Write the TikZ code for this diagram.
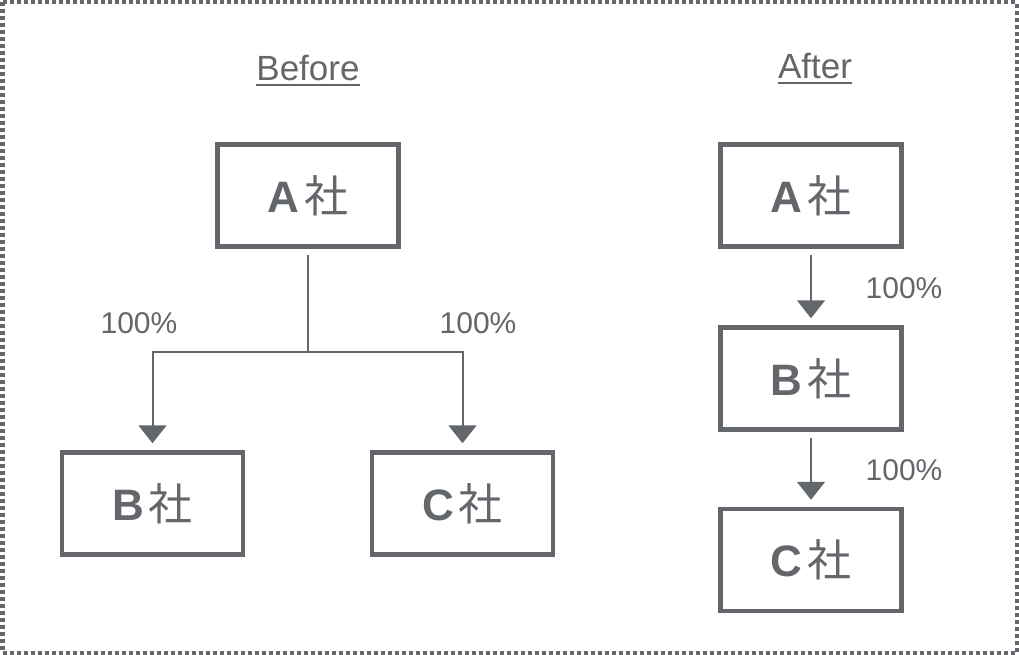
\documentclass[tikz,border=0pt]{standalone}
\usepackage{fontspec}
\setmainfont{Liberation Sans}
\newfontfamily\cjkfont{Noto Sans CJK JP}
\usetikzlibrary{arrows.meta}
\definecolor{ink}{HTML}{63666A}
\newcommand{\sha}{\hspace{5pt}{\cjkfont\mdseries 社}}

\begin{document}
\begin{tikzpicture}
[
x=1pt, y=-1pt,
every node/.style={text=ink},
company/.style={draw=ink, line width=4.5pt, minimum width=181pt, minimum height=102pt, inner sep=0pt, font=\fontsize{44}{48}\selectfont\bfseries},
pct/.style={font=\fontsize{30}{34}\selectfont},
title/.style={font=\fontsize{35}{40}\selectfont, inner sep=0pt},
conn/.style={draw=ink, line width=2pt},
arr/.style={conn, -{Triangle[width=28pt,length=18pt]}, shorten <=6pt, shorten >=7pt}
]
\useasboundingbox (0,0) rectangle (1019,655);
\draw[ink, line width=4.5pt, dash pattern=on 4pt off 3pt] (2.25,2.25) rectangle (1016.75,652.75);

% Before
\node[title] (before) at (308,68) {Before};
\draw[ink, line width=2pt] ([yshift=-5pt]before.base west) -- ([yshift=-5pt]before.base east);
\node[company] (bA) at (308,195.5) {A\sha};
\node[company] (bB) at (152.5,503.5) {B\sha};
\node[company] (bC) at (462.5,503.5) {C\sha};
\coordinate (fork) at (308,352);
\draw[conn, shorten <=6pt] (bA.south) -- (fork);
\draw[arr, shorten <=0pt] (fork) -| (bB.north);
\draw[arr, shorten <=0pt] (fork) -| (bC.north);
\node[pct] (pB) at (139,323) {100\%};
\node[pct] (pC) at (478,323) {100\%};

% After
\node[title] (after) at (815,66) {After};
\draw[ink, line width=2pt] ([yshift=-5pt]after.base west) -- ([yshift=-5pt]after.base east);
\node[company] (aA) at (811,195.5) {A\sha};
\node[company] (aB) at (811,378.5) {B\sha};
\node[company] (aC) at (811,560) {C\sha};
\draw[arr] (aA.south) -- (aB.north);
\draw[arr] (aB.south) -- (aC.north);
\node[pct] (pAB) at (904,288) {100\%};
\node[pct] (pBC) at (904,470) {100\%};
\end{tikzpicture}
\end{document}
